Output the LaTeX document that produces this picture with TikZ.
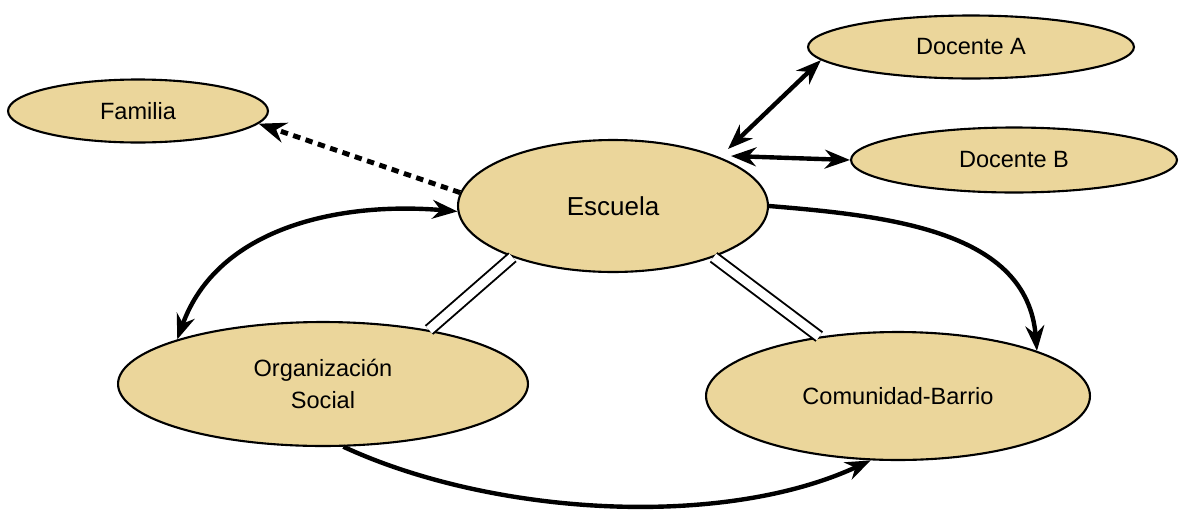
\documentclass[tikz,border=0pt]{standalone}
\usepackage{fontspec}
\setmainfont{Liberation Sans}
\usepackage{tikz}
\usetikzlibrary{arrows.meta,calc,shapes.geometric}
\definecolor{arena}{HTML}{EBD69B}

\begin{document}
\begin{tikzpicture}[x=0.02cm,y=-0.02cm,>=Stealth,every node/.style={ellipse,draw,line width=1.2pt,fill=arena,align=center,inner sep=0pt,font=\fontsize{13.4}{18}\selectfont},flecha/.style={line width=2.5pt},puente/.style={line width=1.1pt,double=white,double distance=5pt}]
\useasboundingbox (0,0) rectangle (1180,511);
\node[minimum width=5.2cm,minimum height=1.26cm] (fam) at (138,111) {Familia};
\node[minimum width=6.52cm,minimum height=1.26cm] (docA) at (971,47) {Docente A};
\node[minimum width=6.52cm,minimum height=1.3cm] (docB) at (1014,160) {Docente B};
\node[minimum width=6.2cm,minimum height=2.64cm,font=\fontsize{14.8}{18}\selectfont] (esc) at (613,206) {Escuela};
\node[minimum width=8.2cm,minimum height=2.48cm] (org) at (323,384) {Organización\\ Social};
\node[minimum width=7.68cm,minimum height=2.56cm] (com) at (898,396) {Comunidad-Barrio};
\coordinate (escA) at (728,149);
\coordinate (escB) at (731,156);
\foreach \a/\b in {esc.207/org.27,esc.333/com.143} \draw[puente] (\a) -- (\b);
\foreach \a/\b in {docA.185/escA,docB.180/escB} \draw[flecha,<->] (\a) -- (\b);
\draw[flecha,->,line width=2.8pt,dash pattern=on 4.2pt off 3.2pt] (esc.175) -- (fam.-6);
\draw[flecha,<->] (org.163) .. controls +(40,-112) and +(-118,-10) .. (esc.182);
\draw[flecha,->] (esc.0) .. controls +(121,10) and +(-10,-120) .. (com.18);
\draw[flecha,->] (org.-72) .. controls +(149,69) and +(-149,69) .. (com.-113);
\end{tikzpicture}
\end{document}
